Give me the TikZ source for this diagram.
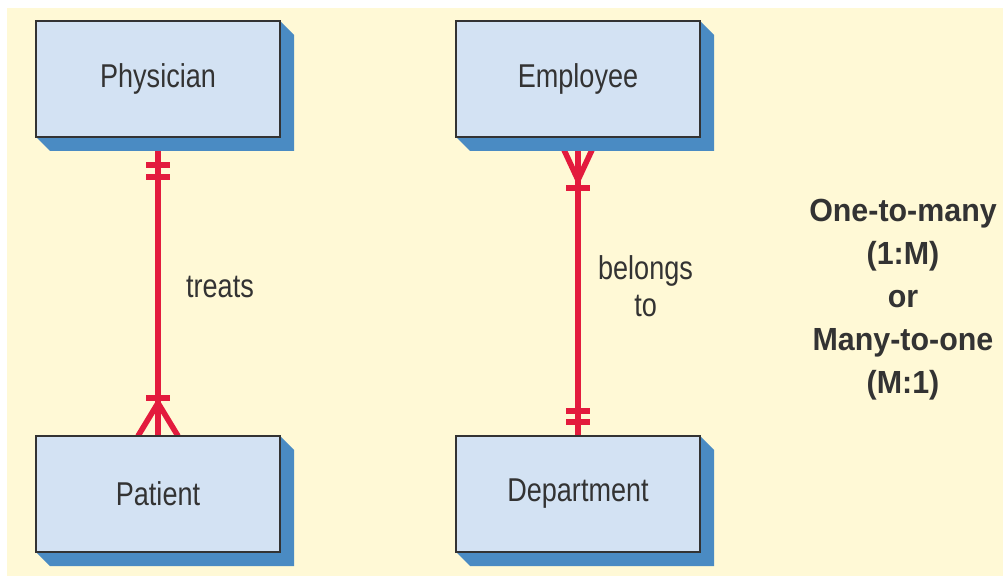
\documentclass[tikz,border=0pt]{standalone}
\usepackage{fontspec}
\setmainfont[FakeStretch=0.82]{Liberation Sans}
\newfontfamily\kindfont[FakeStretch=0.95]{Liberation Sans}
\usetikzlibrary{positioning,calc,backgrounds}

\definecolor{bgcream}{HTML}{FFF9D6}
\definecolor{entityfill}{HTML}{D3E2F3}
\definecolor{shadowblue}{HTML}{4A8BC3}
\definecolor{relred}{HTML}{E31B3D}
\definecolor{inkgray}{HTML}{333333}

\begin{document}
\begin{tikzpicture}[x=0.75pt, y=0.75pt,
    entity/.style={draw=inkgray, line width=1.5pt, fill=entityfill, minimum width=183pt, minimum height=87pt, inner sep=0pt, outer sep=0pt, text=inkgray, font=\fontsize{24.75}{28}\selectfont},
    rel/.style={draw=relred, line width=4.2pt},
    lbl/.style={text=inkgray, inner sep=0pt, font=\fontsize{24.75}{28}\selectfont},
    node distance=224.25pt and 132pt]
  \useasboundingbox (0,0) rectangle (1003,576);

  % entities
  \node (phys) [entity] at (158,497) {Physician};
  \node (emp) [entity, right=of phys] {Employee};
  \node (pat) [entity, below=of phys] {Patient};
  \node (dept) [entity, right=of pat] {Department};

  \node (kind) [text=inkgray, align=center, font=\kindfont\bfseries\fontsize{24}{32.25}\selectfont] at (903,276) {One-to-many\\(1:M)\\or\\Many-to-one\\(M:1)};

  \begin{scope}[on background layer]
    \fill[bgcream] (7,0) rectangle (1003,568);

    % relationships
    \draw[rel] (phys.south) -- node[lbl, right=19pt] {treats} (pat.north);
    \draw[rel] (emp.south) -- node[lbl, right=13pt, align=center] {belongs\\to} (dept.north);

    % one side
    \draw[rel] ($(phys.south)+(-12,-28)$) -- ++(24,0);
    \draw[rel] ($(phys.south)+(-12,-40)$) -- ++(24,0);
    \draw[rel] ($(dept.north)+(-12,25)$) -- ++(24,0);
    \draw[rel] ($(dept.north)+(-12,14)$) -- ++(24,0);

    % many side
    \draw[rel] ($(pat.north)+(-20,0)$) -- ($(pat.north)+(0,33)$) -- ($(pat.north)+(20,0)$);
    \draw[rel] ($(pat.north)+(-12,38)$) -- ++(24,0);
    \draw[rel] ($(emp.south)+(-20,0)$) -- ($(emp.south)+(0,-43)$) -- ($(emp.south)+(20,0)$);
    \draw[rel] ($(emp.south)+(-12,-51)$) -- ++(24,0);

    % shadows
    \foreach \n in {phys,emp,pat,dept}
      \fill[shadowblue] (\n.north east) -- ++(14,-14) -- ($(\n.south east)+(14,-14)$) -- ($(\n.south west)+(14,-14)$) -- (\n.south west) -- cycle;
  \end{scope}
\end{tikzpicture}
\end{document}
